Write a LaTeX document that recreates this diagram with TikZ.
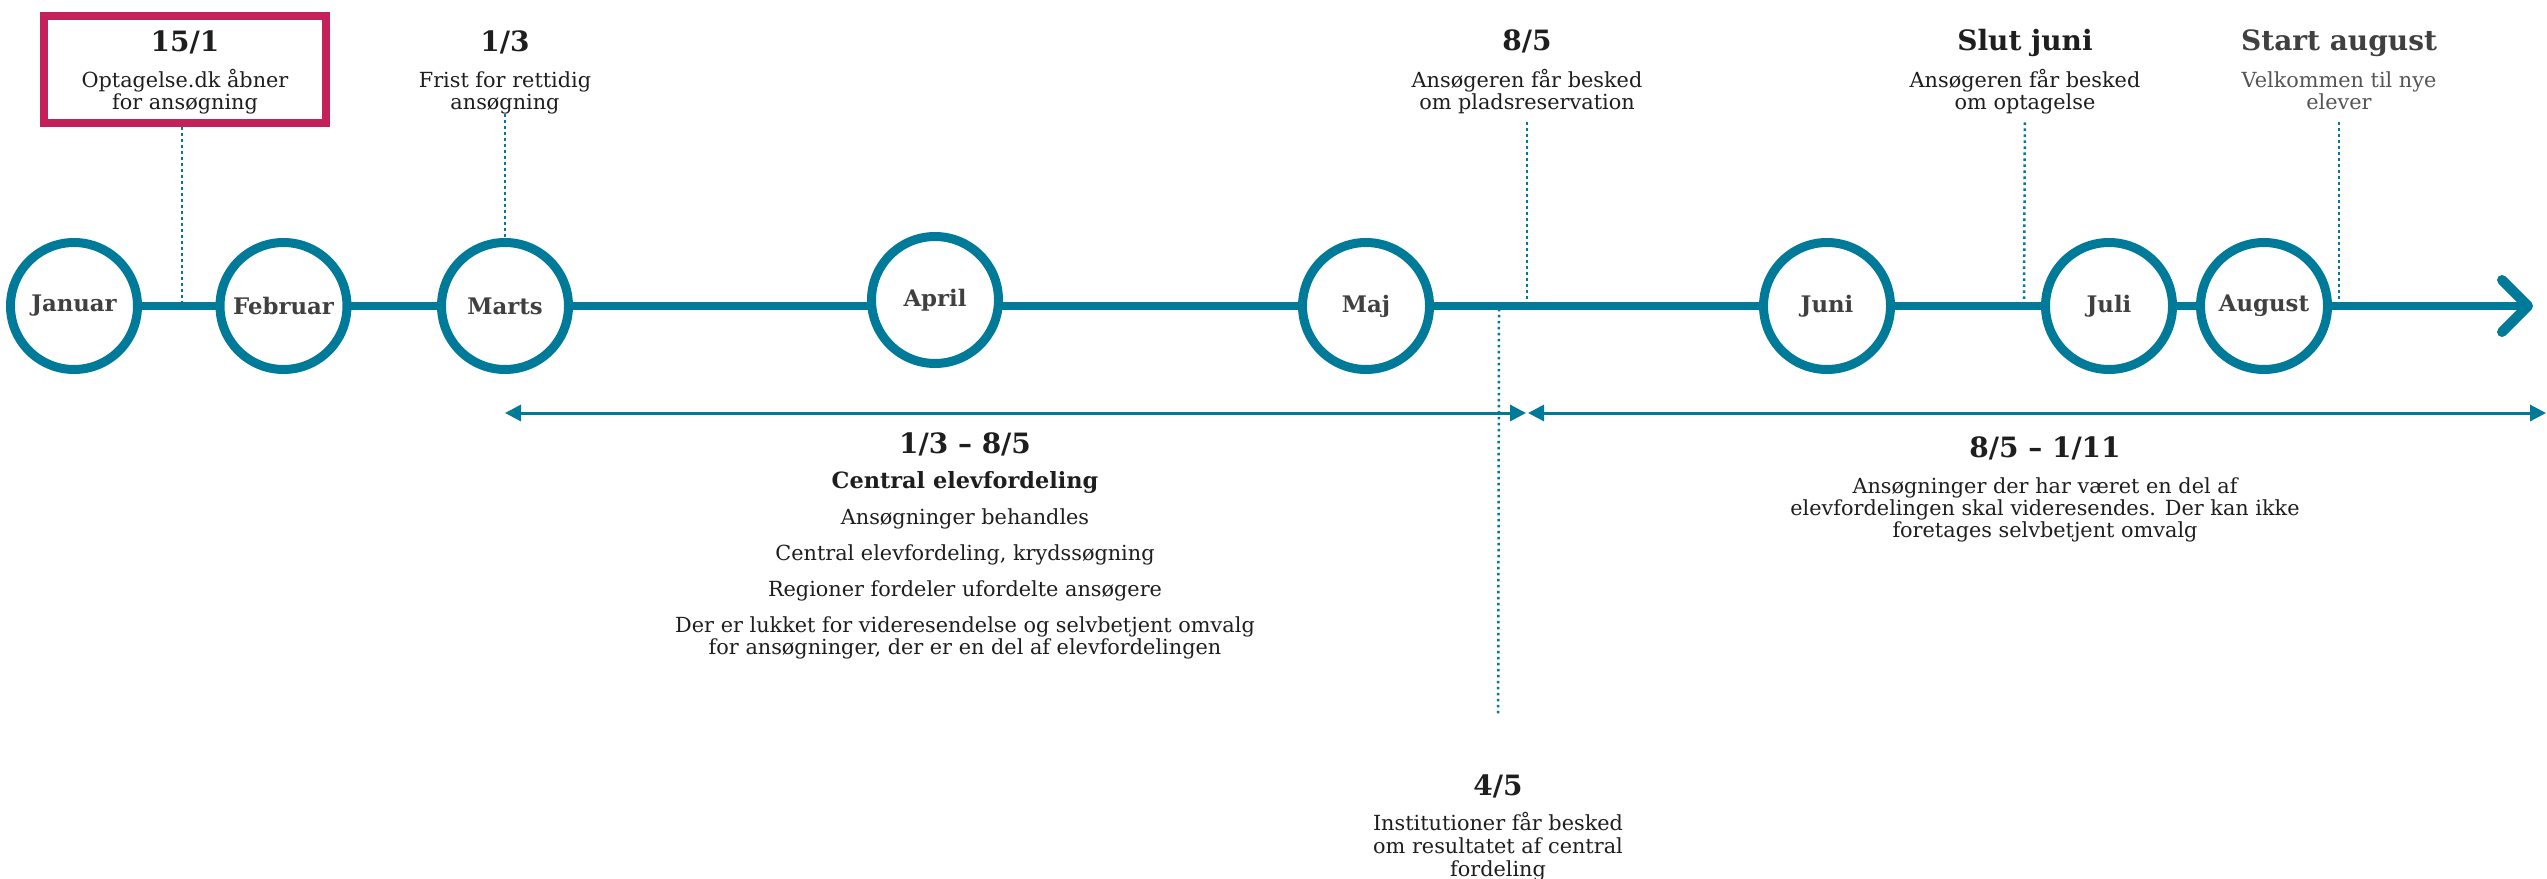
\documentclass[tikz,border=0pt]{standalone}
\usepackage{fontspec}
\setmainfont{DejaVu Serif}
\usetikzlibrary{arrows.meta}

\definecolor{lineblue}{RGB}{0,122,153}
\definecolor{boxred}{RGB}{196,32,90}
\definecolor{monthgrey}{RGB}{64,64,64}
\definecolor{textdark}{RGB}{30,30,30}
\definecolor{softgrey}{RGB}{85,85,85}

\tikzset{every picture/.style={line width=0.75pt},
  timeline/.style={draw=lineblue, line width=4pt},
  monthcircle/.style={circle, draw=lineblue, line width=4.5pt, fill=white, minimum size=63.5pt, inner sep=0pt, text=monthgrey, font=\fontsize{11.4}{13}\selectfont\bfseries},
  datehead/.style={anchor=base, inner sep=0pt, text=textdark, font=\fontsize{14}{16}\selectfont\bfseries},
  notetext/.style={anchor=base, inner sep=0pt, align=center, text=textdark, font=\fontsize{10.4}{11}\selectfont},
  guideline/.style={draw=lineblue, line width=1.25pt, dash pattern=on 1.3pt off 1.7pt},
  spanarrow/.style={draw=lineblue, line width=1.5pt, {Triangle[length=8pt,width=8pt]}-{Triangle[length=8pt,width=8pt]}},
  datebox/.style={draw=boxred, line width=4pt, minimum width=141.25pt, minimum height=53.75pt, inner sep=0pt}
}

\begin{document}
\begin{tikzpicture}[x=0.5pt,y=0.5pt,yscale=-1,xscale=1]
\useasboundingbox (0,0) rectangle (2547,878);

%Straight Lines: time line
\coordinate (start) at (74,306);
\coordinate (tip) at (2533,306);
\draw [timeline, -{Straight Barb[length=13pt,width=26pt,line width=5pt,line cap=round,line join=round]}] (start) -- (tip) ;

%Shape: Circles
\draw (74,306) node (jan) [monthcircle] {Januar};
\draw (283.5,306) node (feb) [monthcircle] {Februar};
\draw (505,306) node (mar) [monthcircle] {Marts};
\draw (935,300) node (apr) [monthcircle] {April};
\draw (1366,306) node (maj) [monthcircle] {Maj};
\draw (1827,306) node (jun) [monthcircle] {Juni};
\draw (2109,306) node (jul) [monthcircle] {Juli};
\draw (2264,306) node (aug) [monthcircle] {August};

%Shape: Rectangle
\draw (184.75,69.25) node (box) [datebox] {};

% Text Node
\draw (185,51) node (d151) [datehead] {15/1};
% Text Node
\draw (185,109) node (t151) [notetext] {Optagelse.dk åbner\\for ansøgning};
% Text Node
\draw (505,51) node (d13) [datehead] {1/3};
% Text Node
\draw (505,109) node (t13) [notetext] {Frist for rettidig\\ansøgning};
% Text Node
\draw (1527,50) node (d85) [datehead] {8/5};
% Text Node
\draw (1527,109) node (t85) [notetext] {Ansøgeren får besked\\om pladsreservation};
% Text Node
\draw (2025,50) node (dslut) [datehead] {Slut juni};
% Text Node
\draw (2025,109) node (tslut) [notetext] {Ansøgeren får besked\\om optagelse};
% Text Node
\draw (2339,50) node (dstart) [datehead, text=monthgrey] {Start august};
% Text Node
\draw (2339,109) node (tstart) [notetext, text=softgrey] {Velkommen til nye\\elever};

%Straight Lines: dotted guides
\coordinate (g151) at (182,302);
\coordinate (g85) at (1527,302);
\coordinate (gslut) at (2024,302);
\coordinate (gstart) at (2339,302);
\coordinate (g45) at (1499,310);
\draw [guideline] (box.south -| g151) -- (g151) ;
\draw [guideline] (t13) -- (mar) ;
\draw [guideline, shorten <=4pt] (t85) -- (g85) ;
\draw [guideline, shorten <=4pt] (tslut) -- (gslut) ;
\draw [guideline, shorten <=6pt] (tstart) -- (gstart) ;

%Straight Lines: periods
\coordinate (s1a) at (505,413);
\coordinate (s1b) at (1526,413);
\coordinate (s2a) at (1528,413);
\coordinate (s2b) at (2546,413);
\draw [spanarrow] (s1a) -- (s1b) ;
\draw [spanarrow] (s2a) -- (s2b) ;

% Text Node
\draw (965,453) node (d38) [datehead] {1/3 \textendash{} 8/5};
% Text Node
\draw (965,488) node (sub38) [notetext, font=\fontsize{11.2}{13}\selectfont\bfseries] {Central elevfordeling};
% Text Node
\draw (965,524) node (l1) [notetext] {Ansøgninger behandles};
% Text Node
\draw (965,560) node (l2) [notetext] {Central elevfordeling, krydssøgning};
% Text Node
\draw (965,596) node (l3) [notetext] {Regioner fordeler ufordelte ansøgere};
% Text Node
\draw (965,654) node (l4) [notetext] {Der er lukket for videresendelse og selvbetjent omvalg\\for ansøgninger, der er en del af elevfordelingen};

% Text Node
\draw (2045,457) node (d8511) [datehead] {8/5 \textendash{} 1/11};
% Text Node
\draw (2045,537) node (t8511) [notetext] {Ansøgninger der har været en del af\\elevfordelingen skal videresendes. Der kan ikke\\foretages selvbetjent omvalg};

% Text Node
\draw (1498,795) node (d45) [datehead] {4/5};
% Text Node
\draw (1498,876) node (t45) [notetext, font=\fontsize{10.4}{11.5}\selectfont] {Institutioner får besked\\om resultatet af central\\fordeling};
\draw [guideline, shorten <=30pt] (d45) -- (g45) ;

\end{tikzpicture}
\end{document}
